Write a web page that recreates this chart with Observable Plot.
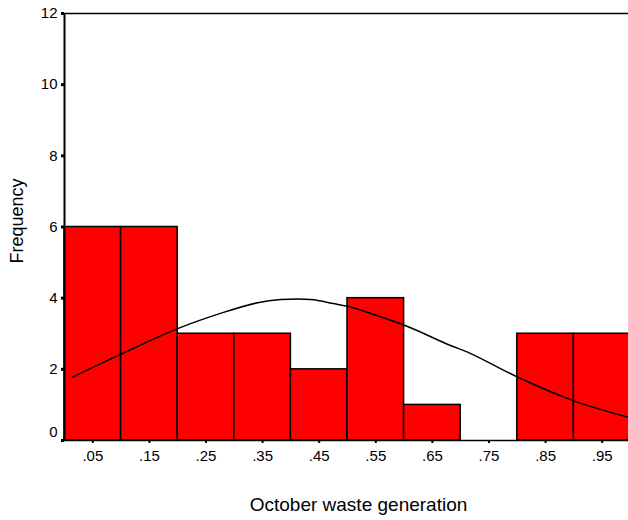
<!DOCTYPE html>
<html>
<head>
<meta charset="utf-8">
<script src="https://cdn.jsdelivr.net/npm/d3@7"></script>
<script src="https://cdn.jsdelivr.net/npm/@observablehq/plot@0.6"></script>
<style>
  html, body { margin: 0; padding: 0; background: #fff; }
</style>
</head>
<body>
<div id="chart"></div>
<script>
// Histogram bins (centers) and frequencies
const binCenters = [0.05, 0.15, 0.25, 0.35, 0.45, 0.55, 0.65, 0.75, 0.85, 0.95];
const frequencies = [6, 6, 3, 3, 2, 4, 1, 0, 3, 3];
const binWidth = 0.1;

// Overlaid normal curve
const curveX = [0.014, 0.099, 0.201, 0.281, 0.341, 0.382, 0.435, 0.475, 0.5, 0.541, 0.602, 0.682, 0.717, 0.802, 0.899, 0.996];
const curveY = [1.78, 2.42, 3.15, 3.60, 3.87, 3.96, 3.96, 3.85, 3.77, 3.57, 3.23, 2.67, 2.45, 1.77, 1.12, 0.65];

const yTicks = [0, 2, 4, 6, 8, 10, 12];
const xTickLabels = [".05", ".15", ".25", ".35", ".45", ".55", ".65", ".75", ".85", ".95"];
const xTitle = "October waste generation";
const yTitle = "Frequency";

const bars = binCenters.map((c, i) => ({x1: c - binWidth / 2, x2: c + binWidth / 2, y: frequencies[i]}))
  .filter(d => d.y > 0);
const curve = curveX.map((x, i) => ({x, y: curveY[i]}));

const chart = Plot.plot({
  width: 628,
  height: 520,
  marginTop: 13,
  marginBottom: 80,
  marginLeft: 64,
  marginRight: 0,
  style: {fontFamily: "'Liberation Sans', Arial, sans-serif", fontSize: "15px", color: "#000", background: "#fff"},
  x: {domain: [0, 0.9965]},
  y: {domain: [0, 12]},
  marks: [
    Plot.rectY(bars, {x1: "x1", x2: "x2", y: "y", fill: "#ff0000", stroke: "#000", strokeWidth: 1.5}),
    Plot.line(curve, {x: "x", y: "y", curve: "catmull-rom", stroke: "#000", strokeWidth: 1.5}),
    Plot.ruleY([12], {stroke: "#000", strokeWidth: 1.5}),
    Plot.ruleY([0], {stroke: "#000", strokeWidth: 1.5}),
    Plot.ruleX([0], {stroke: "#000", strokeWidth: 2}),
    Plot.axisY(yTicks, {tickSize: 3, tickPadding: 4, strokeWidth: 3, fontSize: 15, label: null,
      tickFormat: d => d === 0 ? "" : String(d)}),
    Plot.axisY([0], {tickSize: 0, tickPadding: 7, dy: -8, fontSize: 15, label: null, tickFormat: d => String(d)}),
    Plot.axisX(binCenters, {tickSize: 3, tickPadding: 7, strokeWidth: 2, fontSize: 15, label: null,
      tickFormat: (d, i) => xTickLabels[i]}),
    Plot.text([xTitle], {frameAnchor: "bottom", text: d => d, textAnchor: "middle", lineAnchor: "middle",
      dx: 12, dy: 64, fontSize: 19}),
    Plot.text([yTitle], {frameAnchor: "left", text: d => d, textAnchor: "middle", lineAnchor: "middle",
      rotate: -90, dx: -47, dy: -6, fontSize: 18})
  ]
});
document.getElementById("chart").appendChild(chart);
</script>
</body>
</html>
